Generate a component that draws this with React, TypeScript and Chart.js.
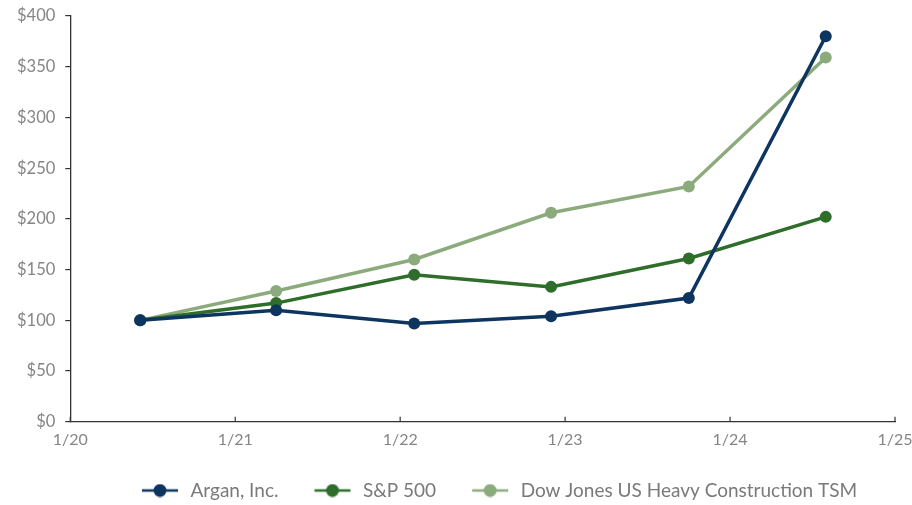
import React, { useEffect, useRef } from "react";
import { Chart, registerables } from "chart.js";

Chart.register(...registerables);

const xTickLabels = ["1/20", "1/21", "1/22", "1/23", "1/24", "1/25"];
const xPositions = [0.424, 1.248, 2.085, 2.915, 3.75, 4.58];
const argan = [100, 110, 97, 104, 122, 380];
const sp500 = [100, 117, 145, 133, 161, 202];
const dowJones = [100, 129, 160, 206, 232, 359];
const seriesNames = ["Argan, Inc.", "S&P 500", "Dow Jones US Heavy Construction TSM"];
const seriesColors = ["#0d3560", "#2e6e2a", "#8bab7c"];

const ICON_LEFT_GAP = 35;
const ICON_W = 36;
const ICON_RIGHT_GAP = 3;
const ICON_TOTAL = ICON_LEFT_GAP + ICON_W + ICON_RIGHT_GAP;

function legendIcon(color: string): HTMLCanvasElement {
  const c = document.createElement("canvas");
  c.width = ICON_TOTAL;
  c.height = 14;
  const ctx = c.getContext("2d")!;
  ctx.strokeStyle = color;
  ctx.lineWidth = 2.5;
  ctx.beginPath();
  ctx.moveTo(ICON_LEFT_GAP, 7);
  ctx.lineTo(ICON_LEFT_GAP + ICON_W, 7);
  ctx.stroke();
  ctx.fillStyle = color;
  ctx.beginPath();
  ctx.arc(ICON_LEFT_GAP + ICON_W / 2, 7, 6.5, 0, Math.PI * 2);
  ctx.fill();
  return c;
}

const inwardTicks = {
  id: "inwardTicks",
  afterUpdate(chart: any) {
    const lg = chart.legend;
    if (lg && lg.legendHitBoxes && lg.legendHitBoxes.length) {
      const dx = 142 - ICON_LEFT_GAP - lg.legendHitBoxes[0].left;
      lg.left += dx;
      lg.right += dx;
      lg.top += 5;
      lg.bottom += 5;
      lg.adjustHitBoxes();
    }
  },
  afterDraw(chart: any) {
    const x = chart.scales.x;
    const ctx = chart.ctx;
    const bottom = chart.chartArea.bottom;
    ctx.save();
    ctx.strokeStyle = "#333";
    ctx.lineWidth = 1.2;
    for (let i = 0; i < xTickLabels.length; i++) {
      const px = x.getPixelForValue(i);
      ctx.beginPath();
      ctx.moveTo(px, bottom);
      ctx.lineTo(px, bottom - 5);
      ctx.stroke();
    }
    ctx.restore();
  },
};

export default function App() {
  const ref = useRef<HTMLCanvasElement>(null);
  useEffect(() => {
    const sets = [argan, sp500, dowJones];
    const chart = new Chart(ref.current!, {
      type: "line",
      data: {
        datasets: sets.map((vals, i) => ({
          label: seriesNames[i],
          data: vals.map((v, j) => ({ x: xPositions[j], y: v })),
          borderColor: seriesColors[i],
          backgroundColor: seriesColors[i],
          borderWidth: 3.5,
          pointRadius: 6,
          pointHoverRadius: 6,
          pointBorderWidth: 0,
          tension: 0,
          order: i,
        })),
      },
      plugins: [inwardTicks],
      options: {
        animation: false,
        responsive: false,
        layout: { padding: { left: 7, right: 17, top: 16, bottom: 0 } },
        scales: {
          x: {
            type: "linear",
            min: 0,
            max: 5,
            grid: { display: false },
            border: { display: true, color: "#333", width: 1.3 },
            ticks: {
              stepSize: 1,
              padding: 0,
              color: "#858585",
              font: { family: "Lato", size: 16 },
              callback: (v: any) => xTickLabels[Math.round(Number(v))] ?? "",
            },
            afterFit: (s: any) => {
              s.height += 26;
              s.paddingRight = 0;
            },
          },
          y: {
            min: 0,
            max: 400,
            grid: { drawOnChartArea: false, tickLength: 5, color: "#333", lineWidth: 1.2 },
            border: { display: true, color: "#333", width: 1.3 },
            ticks: {
              stepSize: 50,
              padding: 10,
              color: "#858585",
              font: { family: "Lato", size: 16.5 },
              callback: (v: any) => "$" + v,
            },
            afterFit: (s: any) => {
              s.paddingTop = 0;
            },
          },
        },
        plugins: {
          tooltip: { enabled: false },
          legend: {
            position: "bottom",
            labels: {
              usePointStyle: true,
              pointStyleWidth: ICON_TOTAL,
              boxHeight: 14,
              padding: 1,
              color: "#7a7a7a",
              font: { family: "Lato", size: 19 },
              generateLabels: () =>
                seriesNames.map((n, i) => ({
                  text: n,
                  pointStyle: legendIcon(seriesColors[i]),
                  fillStyle: seriesColors[i],
                  strokeStyle: seriesColors[i],
                  lineWidth: 0,
                  hidden: false,
                  datasetIndex: i,
                  fontColor: "#7a7a7a",
                })),
            },
          },
        },
      },
    } as any);
    return () => chart.destroy();
  }, []);
  return (
    <div style={{ position: "absolute", left: 0, top: 0, width: 912, height: 505 }}>
      <canvas ref={ref} width={912} height={505} style={{ width: 912, height: 505 }} />
    </div>
  );
}
